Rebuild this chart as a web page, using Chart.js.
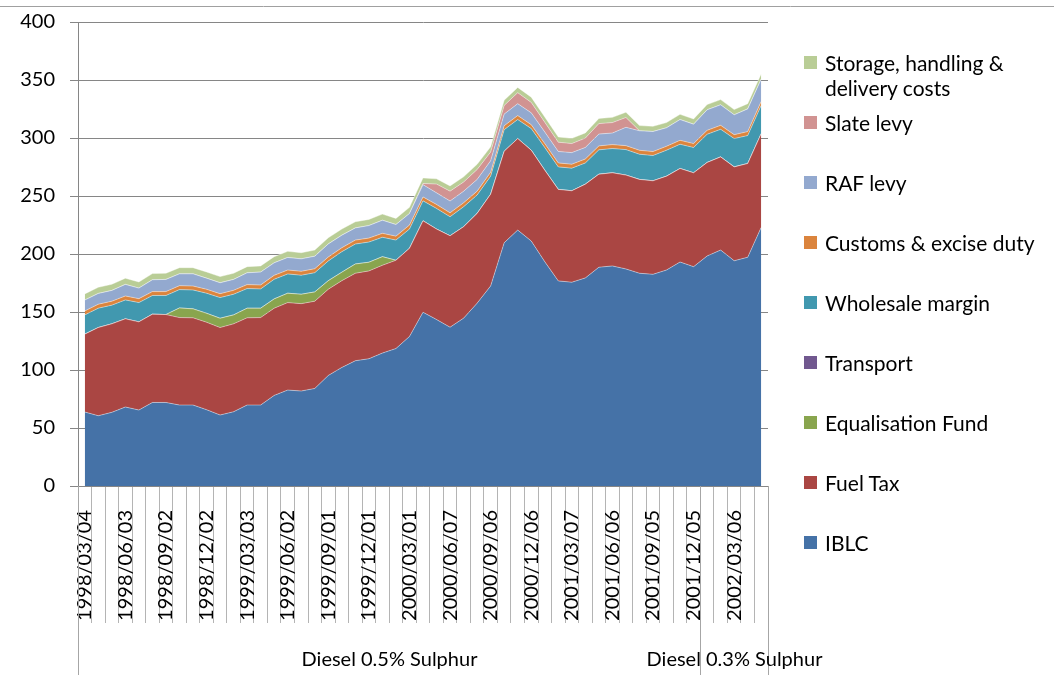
<!DOCTYPE html>
<html>
<head>
<meta charset="utf-8">
<script src="https://cdn.jsdelivr.net/npm/chart.js"></script>
<style>
  body { margin: 0; background: #fff; }
  #wrap { position: relative; width: 1054px; height: 694px; }
  #legend { position: absolute; left: 804px; top: 50px; width: 244px; font: 21px Lato, sans-serif; color: #000; }
  #legend .item { position: relative; height: 60px; padding-left: 21px; line-height: 25px; }
  #legend .box { position: absolute; left: 0; top: 6px; width: 13px; height: 13px; }
</style>
</head>
<body>
<div id="wrap"><canvas id="chart"></canvas><div id="legend"></div></div>
<script>
// price build-up of diesel, c/l, monthly
const tickLabels = ['1998/03/04', '1998/06/03', '1998/09/02', '1998/12/02', '1999/03/03', '1999/06/02',
  '1999/09/01', '1999/12/01', '2000/03/01', '2000/06/07', '2000/09/06', '2000/12/06', '2001/03/07',
  '2001/06/06', '2001/09/05', '2001/12/05', '2002/03/06'];
const labelEvery = 3;
const groupNames = ['Diesel 0.5% Sulphur', 'Diesel 0.3% Sulphur'];
const groupSizes = [46, 5];

const iblc = [63.8, 60.6, 63.5, 68.1, 65.5, 72.0, 72.0, 69.8, 69.8, 65.8,
  61.2, 64.0, 69.8, 69.8, 78.1, 82.7, 81.9, 84.1, 95.3, 102.2,
  108.0, 109.7, 114.6, 118.5, 128.9, 149.8, 143.5, 136.9, 144.7, 157.6,
  172.5, 209.7, 220.6, 211.2, 193.4, 176.8, 175.7, 179.4, 188.6, 189.7,
  187.1, 183.4, 182.5, 186.2, 193.1, 189.1, 198.3, 203.4, 194.2, 197.2, 223.0];
const fuelTax = [67.1, 76.0, 76.3, 76.0, 76.0, 76.1, 75.8, 75.4, 75.2, 75.4,
  75.4, 75.8, 75.2, 75.4, 75.2, 75.4, 75.3, 75.2, 74.3, 74.8,
  75.4, 75.7, 75.7, 76.1, 76.0, 78.8, 78.0, 78.8, 78.8, 77.4,
  79.1, 78.9, 78.9, 78.3, 78.9, 78.9, 78.8, 80.8, 80.2, 80.3,
  80.9, 80.9, 80.6, 80.9, 80.6, 80.9, 80.6, 80.3, 80.9, 80.8, 80.8];
const equalisation = [0, 0, 0, 0, 0, 0, 0, 8.3, 7.7, 7.7,
  8.0, 7.7, 8.3, 8.1, 8.0, 8.1, 8.1, 8.0, 7.4, 7.3,
  8.0, 7.5, 7.4, 0, 0, 0, 0, 0, 0, 0,
  0, 0, 0, 0, 0, 0, 0, 0, 0, 0,
  0, 0, 0, 0, 0, 0, 0, 0, 0, 0, 0];
const transport = [0, 0, 0, 0, 0, 0, 0, 0, 0, 0,
  0, 0, 0, 0, 0, 0, 0, 0, 0, 0,
  0, 0, 0, 0, 0, 0, 0, 0, 0, 0,
  0, 0, 0, 0, 0, 0, 0, 0, 0, 0,
  0, 0, 0, 0, 0, 0, 0, 0, 0, 0, 0];
const wholesale = [16.6, 16.7, 16.1, 16.3, 16.6, 16.1, 16.4, 15.8, 16.3, 17.3,
  17.8, 17.8, 16.9, 16.6, 16.9, 16.6, 16.4, 16.6, 17.0, 17.7,
  17.2, 17.4, 16.7, 17.4, 16.6, 17.2, 17.8, 16.4, 17.2, 15.8,
  15.5, 18.6, 16.4, 18.6, 19.5, 19.4, 19.5, 18.3, 21.0, 20.9,
  22.0, 21.7, 21.8, 22.4, 20.9, 21.8, 24.3, 23.8, 24.4, 24.1, 24.4];
const customs = [3.4, 3.4, 3.4, 3.4, 3.4, 3.4, 3.4, 3.4, 3.4, 3.4,
  3.4, 3.4, 3.4, 3.4, 3.4, 3.4, 3.4, 3.4, 3.4, 3.4,
  3.4, 3.4, 3.4, 3.4, 3.4, 3.4, 3.4, 3.4, 3.4, 3.4,
  3.4, 3.4, 3.4, 3.4, 3.4, 3.4, 3.4, 3.4, 3.4, 3.4,
  3.4, 3.4, 3.4, 3.4, 3.4, 3.4, 3.4, 3.4, 3.4, 3.4, 3.4];
const rafLevy = [9.4, 9.3, 9.3, 10.0, 9.1, 10.2, 10.5, 10.2, 10.5, 9.6,
  9.4, 9.4, 10.2, 11.1, 10.8, 10.8, 10.7, 10.8, 11.3, 10.8,
  10.5, 10.8, 11.3, 10.0, 10.0, 10.6, 10.0, 10.2, 10.0, 10.1,
  9.9, 10.0, 10.3, 10.2, 10.0, 9.9, 10.0, 10.0, 10.2, 10.0,
  15.8, 16.8, 17.3, 15.9, 17.9, 16.7, 17.7, 17.7, 17.1, 19.6, 19.3];
const slateLevy = [0, 0, 0, 0, 0, 0, 0, 0, 0, 0,
  0, 0, 0, 0, 0, 0, 0, 0, 0, 0,
  0, 0, 0, 0, 0, 1.0, 7.6, 8.5, 7.9, 8.5,
  7.5, 7.5, 9.5, 9.0, 8.4, 8.0, 7.8, 8.0, 9.0, 9.0,
  8.5, 0, 0, 0, 0, 0, 0, 0, 0, 0, 0];
const storage = [5.3, 5.3, 5.3, 5.3, 5.3, 5.3, 5.3, 5.3, 5.3, 5.3,
  5.3, 5.3, 5.3, 5.3, 5.3, 5.3, 5.3, 5.3, 5.3, 5.3,
  5.3, 5.3, 5.3, 5.3, 5.3, 4.8, 4.5, 4.5, 4.5, 4.5,
  4.5, 4.5, 4.5, 4.5, 4.5, 4.5, 4.5, 4.5, 4.5, 4.5,
  4.5, 4.5, 4.5, 4.5, 4.5, 4.5, 4.5, 4.5, 4.5, 4.5, 4.5];

const categories = iblc.map((v, i) => (i % labelEvery === 0 ? tickLabels[i / labelEvery] : ''));

Chart.defaults.font.family = 'Lato';
Chart.defaults.font.size = 20;
Chart.defaults.color = '#000';

function area(label, data, color, first) {
  return {
    label: label,
    data: data,
    backgroundColor: color,
    borderColor: 'rgba(255,255,255,0.4)',
    borderWidth: 1,
    fill: first ? 'origin' : '-1',
    pointRadius: 0,
    tension: 0
  };
}

// second level of the category axis + outer frame line
const groupAxis = {
  id: 'groupAxis',
  beforeDraw(chart) {
    const ctx = chart.ctx;
    ctx.save();
    ctx.strokeStyle = '#a0a0a0';
    ctx.lineWidth = 1;
    ctx.beginPath();
    ctx.moveTo(0, 6.5);
    ctx.lineTo(chart.width, 6.5);
    ctx.stroke();
    ctx.restore();
  },
  afterDraw(chart) {
    const ctx = chart.ctx;
    const x = chart.scales.x;
    const step = x.getPixelForValue(1) - x.getPixelForValue(0);
    const edge = i => Math.round(x.getPixelForValue(i) - step / 2) + 0.5;
    ctx.save();
    ctx.strokeStyle = '#a6a6a6';
    ctx.lineWidth = 1;
    ctx.fillStyle = '#000';
    ctx.font = '20px Lato';
    ctx.textAlign = 'center';
    ctx.textBaseline = 'middle';
    let start = 0;
    const bounds = [0];
    groupSizes.forEach(n => { start += n; bounds.push(start); });
    bounds.forEach(b => {
      ctx.beginPath();
      ctx.moveTo(edge(b), x.top);
      ctx.lineTo(edge(b), x.top + 189);
      ctx.stroke();
    });
    groupNames.forEach((name, g) => {
      ctx.fillText(name, (edge(bounds[g]) + edge(bounds[g + 1])) / 2, x.top + 174);
    });
    ctx.restore();
  }
};

const htmlLegend = {
  id: 'htmlLegend',
  afterUpdate(chart) {
    const box = document.getElementById('legend');
    box.innerHTML = '';
    chart.data.datasets.slice().reverse().forEach(ds => {
      const item = document.createElement('div');
      item.className = 'item';
      const sw = document.createElement('span');
      sw.className = 'box';
      sw.style.background = ds.backgroundColor;
      item.appendChild(sw);
      item.appendChild(document.createTextNode(ds.label));
      box.appendChild(item);
    });
  }
};

new Chart(document.getElementById('chart'), {
  type: 'line',
  data: {
    labels: categories,
    datasets: [
      area('IBLC', iblc, '#4572A7', true),
      area('Fuel Tax', fuelTax, '#AA4643'),
      area('Equalisation Fund', equalisation, '#89A54E'),
      area('Transport', transport, '#71588F'),
      area('Wholesale margin', wholesale, '#4198AF'),
      area('Customs & excise duty', customs, '#DB843D'),
      area('RAF levy', rafLevy, '#93A9CF'),
      area('Slate levy', slateLevy, '#D19392'),
      area('Storage, handling & delivery costs', storage, '#B9CD96')
    ]
  },
  options: {
    responsive: true,
    maintainAspectRatio: false,
    animation: false,
    layout: { padding: { top: 22, right: 286, bottom: 0, left: 0 } },
    plugins: {
      legend: { display: false },
      tooltip: { enabled: false }
    },
    scales: {
      x: {
        offset: true,
        grid: { display: true, offset: true, drawOnChartArea: false, tickLength: 137, color: '#b4b4b4' },
        border: { color: '#868686' },
        ticks: { autoSkip: false, minRotation: 90, maxRotation: 90, padding: -113 },
        afterFit(s) { s.height = 208; }
      },
      y: {
        stacked: true,
        min: 0,
        max: 400,
        ticks: { stepSize: 50, padding: 15 },
        grid: { color: '#868686', tickLength: 8 },
        border: { color: '#868686' },
        afterFit(s) { s.width = 78; s.paddingTop = 0; s.paddingBottom = 0; }
      }
    }
  },
  plugins: [groupAxis, htmlLegend]
});
</script>
</body>
</html>
